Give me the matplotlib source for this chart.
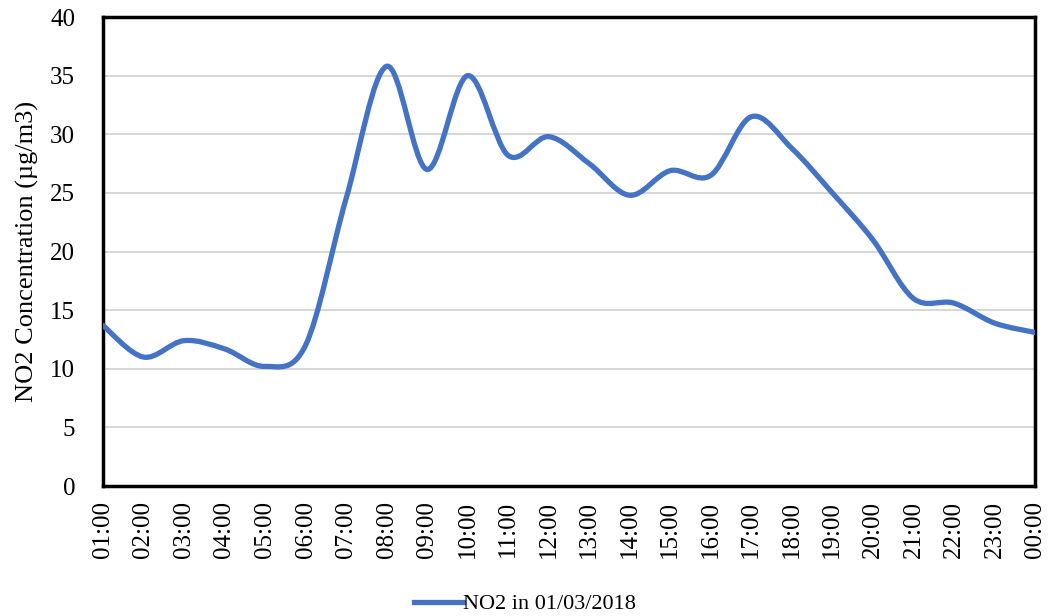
import numpy as np
import matplotlib
matplotlib.use('Agg')
import matplotlib.pyplot as plt
from matplotlib.path import Path
from matplotlib.patches import PathPatch
from matplotlib.lines import Line2D

hours = ['01:00', '02:00', '03:00', '04:00', '05:00', '06:00', '07:00', '08:00',
         '09:00', '10:00', '11:00', '12:00', '13:00', '14:00', '15:00', '16:00',
         '17:00', '18:00', '19:00', '20:00', '21:00', '22:00', '23:00', '00:00']
no2 = [13.7, 11.0, 12.4, 11.7, 10.2, 12.0, 24.5, 35.8, 27.0, 35.0, 28.2, 29.8,
       27.5, 24.8, 26.9, 26.5, 31.5, 28.8, 25.0, 21.0, 16.0, 15.6, 13.9, 13.1]

blue = '#4472C4'
plt.rcParams['font.family'] = ['Liberation Serif', 'DejaVu Serif']


def smooth_path(x, y, t=1/6):
    # excel-like smoothed line: cubic bezier segments through each point
    x = np.asarray(x, float)
    y = np.asarray(y, float)
    n = len(x)
    verts = [(x[0], y[0])]
    codes = [Path.MOVETO]
    for i in range(n - 1):
        i0 = max(i - 1, 0)
        i3 = min(i + 2, n - 1)
        c1 = (x[i] + (x[i + 1] - x[i0]) * t, y[i] + (y[i + 1] - y[i0]) * t)
        c2 = (x[i + 1] - (x[i3] - x[i]) * t, y[i + 1] - (y[i3] - y[i]) * t)
        verts += [c1, c2, (x[i + 1], y[i + 1])]
        codes += [Path.CURVE4] * 3
    return Path(verts, codes)


fig = plt.figure(figsize=(10.5, 6.16), dpi=100)
ax = fig.add_axes([0.098, 0.211, 0.8877, 0.7613])

xs = np.arange(len(hours))
ax.add_patch(PathPatch(smooth_path(xs, no2), facecolor='none', edgecolor=blue,
                       lw=3.8, capstyle='round', joinstyle='round', zorder=3))

ax.set_xlim(0, len(hours) - 1)
ax.set_ylim(0, 40)
ax.set_yticks(range(0, 41, 5))
ax.set_xticks(xs)
ax.set_xticklabels(hours, rotation=90)
ax.tick_params(axis='x', length=0, labelsize=18, pad=11)
ax.tick_params(axis='y', length=0, labelsize=18, pad=20)
ax.grid(axis='y', color='#d0d0d0', lw=1.2)
ax.set_axisbelow(True)
for s in ax.spines.values():
    s.set_linewidth(2.5)
    s.set_color('black')

ax.set_ylabel('NO2 Concentration (µg/m3)', fontsize=19, labelpad=8)

handle = Line2D([], [], color=blue, lw=3.8)
fig.legend([handle], ['NO2 in 01/03/2018'], loc='lower center',
           bbox_to_anchor=(0.5, -0.03), frameon=False, fontsize=16,
           handlelength=2.2, handletextpad=0.0)

fig.savefig('out.png', dpi=100)
